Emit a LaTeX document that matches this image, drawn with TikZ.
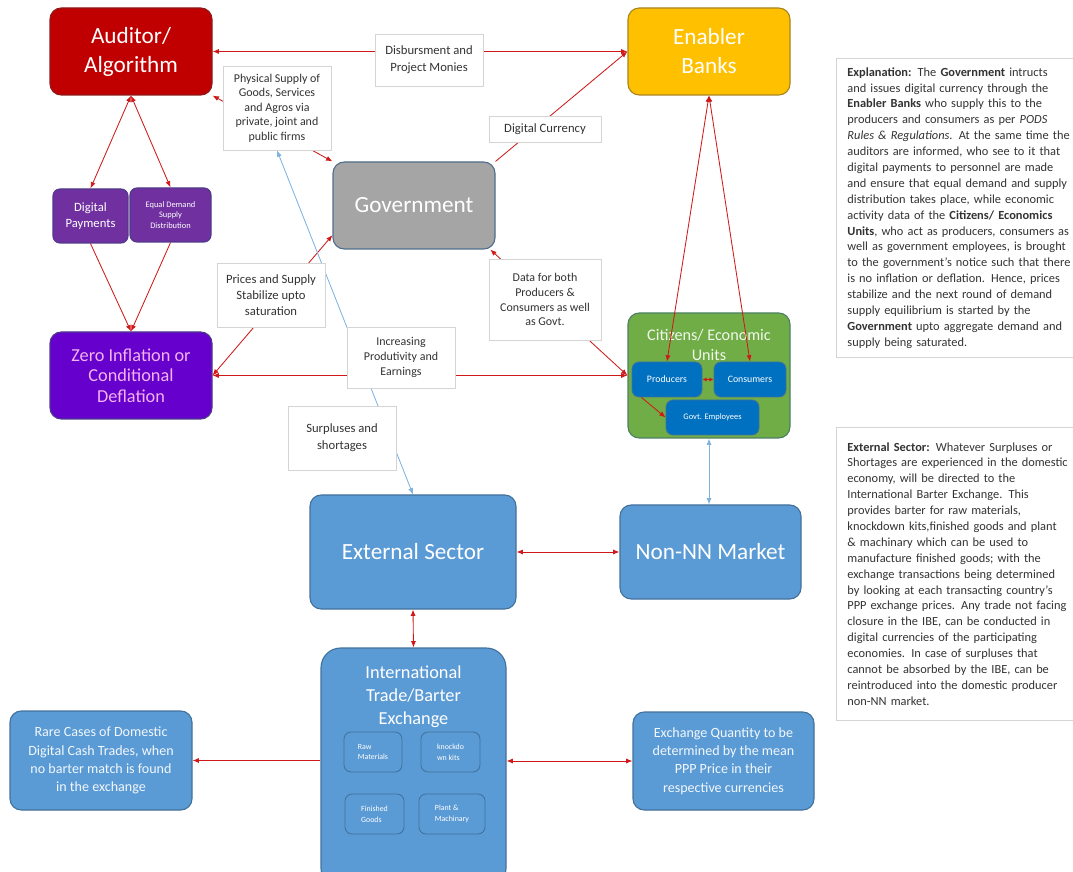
\documentclass[tikz,border=0pt]{standalone}
\usepackage{fontspec}
\setmainfont{Carlito}
\usetikzlibrary{arrows.meta,backgrounds}

\definecolor{audRed}{HTML}{C00000}
\definecolor{audEdge}{HTML}{8E1B1B}
\definecolor{bankGold}{HTML}{FFC000}
\definecolor{bankEdge}{HTML}{A8841E}
\definecolor{govGray}{HTML}{A5A5A5}
\definecolor{govEdge}{HTML}{4F6E8C}
\definecolor{purpBox}{HTML}{7030A0}
\definecolor{purpEdge}{HTML}{4E3A8A}
\definecolor{zeroViolet}{HTML}{6600CC}
\definecolor{zeroText}{HTML}{F2B3F0}
\definecolor{citzGreen}{HTML}{70AD47}
\definecolor{citzEdge}{HTML}{4D7F62}
\definecolor{deepBlue}{HTML}{0070C0}
\definecolor{blueBox}{HTML}{5B9BD5}
\definecolor{blueEdge}{HTML}{41719C}
\definecolor{tagGray}{HTML}{D4D4D4}
\definecolor{lineRed}{HTML}{D01818}
\definecolor{lineBlue}{HTML}{7FB2DF}
\definecolor{bodyText}{HTML}{333333}

\newcommand{\fsz}[2]{\fontsize{#1}{#2}\selectfont}

\begin{document}
\begin{tikzpicture}[x=0.025cm, y=-0.025cm, >={Latex[length=4.5pt,width=3.6pt]},
  sz/.style 2 args={minimum width=#1*0.025cm, minimum height=#2*0.025cm},
  box/.style={rounded corners=8pt, inner sep=0pt, align=center, line width=0.8pt},
  cell/.style={rounded corners=5pt, inner sep=0pt, align=center, line width=0.6pt,
    text=white},
  tag/.style={fill=white, draw=tagGray, line width=0.6pt, inner sep=0pt,
    align=center, text=bodyText, font=\fsz{9}{12}},
  panel/.style={fill=white, draw=tagGray, line width=0.6pt, inner xsep=11*0.025cm,
    inner ysep=0pt, anchor=north west, align=left, text width=6.6cm,
    text=bodyText, font=\fsz{8.8}{11.3}},
  redline/.style={draw=lineRed, line width=0.6pt},
  blueline/.style={draw=lineBlue, line width=0.6pt}]

  \useasboundingbox (0,0) rectangle (1073,872);

  %% ---- Top row ----
  \node[box, sz={162}{87}, fill=audRed, draw=audEdge, text=white,
    font=\fsz{16.5}{20.6}] (audit) at (131,51.5) {Auditor/\\Algorithm};
  \node[box, sz={162}{87}, fill=bankGold, draw=bankEdge, text=white,
    font=\fsz{16.5}{20.6}] (banks) at (709,51.5) {Enabler\\Banks};
  \node[box, sz={162}{87}, fill=govGray, draw=govEdge, text=white,
    font=\fsz{16.5}{20.6}] (gov) at (414,205.5) {Government};

  %% ---- Auditor checks ----
  \node[box, rounded corners=5pt, sz={75}{54}, fill=purpBox, draw=purpEdge,
    text=white, font=\fsz{9}{11.3}] (dpay) at (90.5,216) {Digital\\Payments};
  \node[box, rounded corners=5pt, sz={81}{54}, fill=purpBox, draw=purpEdge,
    text=white, font=\fsz{6}{7.4}] (eqd) at (170.5,215)
    {Equal Demand\\Supply\\Distribution};
  \node[box, sz={162}{87}, fill=zeroViolet, draw=purpEdge, text=zeroText,
    font=\fsz{13}{14.5}] (zero) at (131,375.5)
    {Zero Inflation or\\Conditional\\Deflation};

  %% ---- Citizens ----
  \node[box, sz={162}{125}, fill=citzGreen, draw=citzEdge] (citz) at (709,375.5) {};
  \node[text=white!90!citzGreen, align=center, inner sep=0pt, font=\fsz{11.5}{14.2}]
    (citzlbl) at (709,345) {Citizens/ Economic\\Units};
  \node[cell, sz={70}{35}, fill=deepBlue, draw=blueEdge, font=\fsz{7}{8}]
    (prod) at (667,379.5) {Producers};
  \node[cell, sz={72}{35}, fill=deepBlue, draw=blueEdge, font=\fsz{7}{8}]
    (cons) at (750,379.5) {Consumers};
  \node[cell, sz={93}{35}, fill=deepBlue, draw=blueEdge, font=\fsz{6}{7}]
    (gemp) at (712.5,417.5) {Govt. Employees};

  %% ---- External side ----
  \node[box, sz={206}{114}, fill=blueBox, draw=blueEdge, text=white,
    font=\fsz{16.5}{20.6}] (ext) at (413,552) {External Sector};
  \node[box, sz={181}{94}, fill=blueBox, draw=blueEdge, text=white,
    font=\fsz{16.5}{20.6}] (nonnn) at (710.5,552) {Non-NN Market};
  \node[box, rounded corners=14pt, sz={185}{240}, fill=blueBox, draw=blueEdge]
    (ibe) at (413.5,768) {};
  \node[text=white, align=center, inner sep=0pt, font=\fsz{13}{16.3}]
    (ibelbl) at (413.5,697) {International\\Trade/Barter\\Exchange};
  \node[cell, align=left, sz={58}{40}, fill=blueBox, draw=blueEdge, font=\fsz{5.6}{7.8}]
    (raw) at (373,752) {Raw\\Materials};
  \node[cell, align=left, sz={59}{40}, fill=blueBox, draw=blueEdge, font=\fsz{5.6}{7.8}]
    (kd) at (450.5,752) {knockdo\\wn kits};
  \node[cell, align=left, sz={59}{40}, fill=blueBox, draw=blueEdge, font=\fsz{5.6}{7.8}]
    (fin) at (374.5,814) {Finished\\Goods};
  \node[cell, align=left, sz={66}{40}, fill=blueBox, draw=blueEdge, font=\fsz{5.6}{7.8}]
    (plant) at (452,814) {Plant \&\\Machinary};
  \node[box, sz={182}{99}, fill=blueBox, draw=blueEdge, text=white!92!blueBox,
    font=\fsz{10}{13}] (rare) at (101,760.5)
    {Rare Cases of Domestic\\Digital Cash Trades, when\\no barter match is found\\in the exchange};
  \node[box, sz={181}{98}, fill=blueBox, draw=blueEdge, text=white!92!blueBox,
    font=\fsz{10}{13}] (exq) at (723.5,761)
    {Exchange Quantity to be\\determined by the mean\\PPP Price in their\\respective currencies};

  %% ---- Connector labels ----
  \node[tag, sz={108}{52}] (lDisb) at (429,60) {Disbursment and\\Project Monies};
  \node[tag, sz={108}{84}, font=\fsz{8.5}{10.3}] (lPhys) at (277,108)
    {Physical Supply of\\Goods, Services\\and Agros via\\private, joint and\\public firms};
  \node[tag, sz={112}{26}] (lDig) at (545,129) {Digital Currency};
  \node[tag, sz={108}{64}, font=\fsz{9}{11.3}] (lPrice) at (271,295)
    {Prices and Supply\\Stabilize upto\\saturation};
  \node[tag, sz={112}{81}, font=\fsz{8.5}{10.6}] (lData) at (545,299.5)
    {Data for both\\Producers \&\\Consumers as well\\as Govt.};
  \node[tag, sz={108}{61}, font=\fsz{8.5}{10.6}] (lIncr) at (401,357.5)
    {Increasing\\Produtivity and\\Earnings};
  \node[tag, sz={108}{64}, font=\fsz{9}{12}] (lSurp) at (342,438)
    {Surpluses and\\shortages};

  %% ---- Notes on the right ----
  \node[panel, minimum height=299*0.025cm] (explain) at (836,58)
    {\textbf{Explanation:} The \textbf{Government} intructs\\
     and issues digital currency through the\\
     \textbf{Enabler Banks} who supply this to the\\
     producers and consumers as per \textit{PODS}\\
     \textit{Rules \& Regulations.} At the same time the\\
     auditors are informed, who see to it that\\
     digital payments to personnel are made\\
     and ensure that equal demand and supply\\
     distribution takes place, while economic\\
     activity data of the \textbf{Citizens/ Economics}\\
     \textbf{Units}, who act as producers, consumers as\\
     well as government employees, is brought\\
     to the government's notice such that there\\
     is no inflation or deflation. Hence, prices\\
     stabilize and the next round of demand\\
     supply equilibrium is started by the\\
     \textbf{Government} upto aggregate demand and\\
     supply being saturated.};
  \node[panel, minimum height=293*0.025cm] (extnote) at (836,427)
    {\textbf{External Sector:} Whatever Surpluses or\\
     Shortages are experienced in the domestic\\
     economy, will be directed to the\\
     International Barter Exchange. This\\
     provides barter for raw materials,\\
     knockdown kits,finished goods and plant\\
     \& machinary which can be used to\\
     manufacture finished goods; with the\\
     exchange transactions being determined\\
     by looking at each transacting country's\\
     PPP exchange prices. Any trade not facing\\
     closure in the IBE, can be conducted in\\
     digital currencies of the participating\\
     economies. In case of surpluses that\\
     cannot be absorbed by the IBE, can be\\
     reintroduced into the domestic producer\\
     non-NN market.};

  %% ---- Connectors (behind the boxes) ----
  \begin{scope}[on background layer]
    \draw[redline, <->] (audit.east) -- (banks.west);
    \draw[redline, ->] (gov.north east) -- (banks.west);
    \draw[redline, <->] (audit.south east) -- (gov.north west);
    \draw[redline, <->] (audit.south) -- (dpay.north);
    \draw[redline, <->] (audit.south) -- (eqd.north);
    \draw[redline, ->] (dpay.south) -- (zero.north);
    \draw[redline, ->] (eqd.south) -- (zero.north);
    \draw[redline, <->] (zero.east) -- (gov.200);
    \draw[redline, <->] (gov.-30) -- (citz.west);
    \draw[redline, <->] (zero.east) -- (citz.west);
    \draw[blueline, <->] (ext.north) -- (lPhys.south);
    \draw[blueline, <->] (citz.south) -- (citz.south |- nonnn.north);
    \draw[redline, <->] (ext.east) -- (nonnn.west);
    \draw[redline, <->] (ext.south) -- (ibe.north);
    \draw[redline, ->] (ibe.west |- rare.east) -- (rare.east);
    \draw[redline, <->] (ibe.east |- exq.west) -- (exq.west);
  \end{scope}

  %% ---- Connectors over the green box ----
  \draw[redline, <->] (banks.south) -- (prod.north);
  \draw[redline, <->] (banks.south) -- (cons.north);
  \draw[redline, <->, >={Latex[length=3pt,width=3pt]}] (prod.east) -- (cons.west);
  \draw[redline, ->] (prod.215) -- (gemp.west);

\end{tikzpicture}
\end{document}
